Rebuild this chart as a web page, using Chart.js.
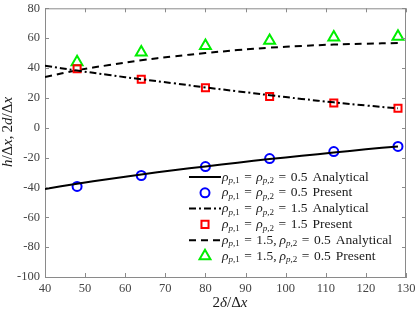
<!DOCTYPE html>
<html>
<head>
<meta charset="utf-8">
<script src="https://cdn.jsdelivr.net/npm/chart.js@4/dist/chart.umd.min.js"></script>
<style>
html, body { margin: 0; padding: 0; background: #fff; }
</style>
</head>
<body>
<canvas id="chart" width="415" height="312"></canvas>
<script>
// Data
const xPresent = [48, 64, 80, 96, 112, 128];
const xAnalytical = [40, 48, 56, 64, 72, 80, 88, 96, 104, 112, 120, 128];

const lowAnalytical = [-41, -37.5, -34.3, -31.3, -28.5, -25.9, -23.4, -21, -18.8, -16.6, -14.5, -12.5];
const lowPresent = [-39.3, -32, -26, -20.7, -16, -12.5];

const highAnalytical = [41.5, 38.3, 35.3, 32.5, 29.8, 27, 24.4, 21.8, 19.3, 17, 14.9, 13];
const highPresent = [39.5, 32.5, 26.8, 20.9, 16.6, 13];

const mixAnalytical = [34, 38.5, 42, 45.2, 47.8, 50, 52, 53.6, 54.8, 55.7, 56.3, 56.7];
const mixPresent = [44, 50.5, 54.8, 58.3, 60.5, 61];

const xTickValues = [40, 50, 60, 70, 80, 90, 100, 110, 120, 130];
const yTickValues = [-100, -80, -60, -40, -20, 0, 20, 40, 60, 80];

const legendMath = [
    'ρ_{p,1} = ρ_{p,2} = 0.5',
    'ρ_{p,1} = ρ_{p,2} = 0.5',
    'ρ_{p,1} = ρ_{p,2} = 1.5',
    'ρ_{p,1} = ρ_{p,2} = 1.5',
    'ρ_{p,1} = 1.5, ρ_{p,2} = 0.5',
    'ρ_{p,1} = 1.5, ρ_{p,2} = 0.5'
];
const legendWord = ['Analytical', 'Present', 'Analytical', 'Present', 'Analytical', 'Present'];

const SERIF = '"Liberation Serif", "DejaVu Serif", serif';
const AXIS_GREY = '#8a8a8a';

function pts(xs, ys) {
    return xs.map((x, i) => ({ x: x, y: ys[i] }));
}

// Split math text into styled pieces: letters italic, _{..} subscript,
// spaces become small gaps (wider around '=' like TeX)
function parseMath(str) {
    const segs = [];
    let i = 0;
    while (i < str.length) {
        const ch = str[i];
        if (ch === '_' && str[i + 1] === '{') {
            const end = str.indexOf('}', i);
            const inner = str.slice(i + 2, end);
            for (const c of inner) segs.push({ t: c, italic: /[a-zA-Zρδ]/.test(c), sub: true });
            i = end + 1;
        } else if (ch === ' ') {
            const next = str[i + 1], prev = str[i - 1];
            segs.push({ gap: (next === '=' || prev === '=') ? 4.5 : 3 });
            i++;
        } else {
            segs.push({ t: ch, italic: /[a-zA-Zρδ]/.test(ch), sub: false });
            i++;
        }
    }
    return segs;
}

function segFont(s, size) {
    const sz = s.sub ? Math.round(size * 0.7) : size;
    return (s.italic ? 'italic ' : '') + sz + 'px ' + SERIF;
}

function segWidth(ctx, s, size) {
    if (s.gap !== undefined) return s.gap;
    ctx.font = segFont(s, size);
    return ctx.measureText(s.t).width;
}

function drawSegs(ctx, segs, x, y, size, align) {
    let total = 0;
    segs.forEach(s => { total += segWidth(ctx, s, size); });
    let cx = align === 'center' ? x - total / 2 : x;
    ctx.textBaseline = 'middle';
    ctx.textAlign = 'left';
    segs.forEach(s => {
        const w = segWidth(ctx, s, size);
        if (s.gap === undefined) {
            ctx.font = segFont(s, size);
            ctx.fillText(s.t, cx, s.sub ? y + size * 0.28 : y);
        }
        cx += w;
    });
    return cx;
}

const datasetStyles = [
    { borderDash: [] },
    { pointStyle: 'circle', color: '#0000ff', radius: 4.5 },
    { borderDash: [7, 3, 2, 3] },
    { pointStyle: 'rect', color: '#ff0000', radius: 5 },
    { borderDash: [7, 5] },
    { pointStyle: 'triangle', color: '#00ee00', radius: 6.3 }
];

const frameAndLabels = {
    id: 'frameAndLabels',
    afterDraw(chart) {
        const ctx = chart.ctx;
        const a = chart.chartArea;
        const xs = chart.scales.x, ys = chart.scales.y;
        ctx.save();
        // box + inner ticks
        ctx.strokeStyle = AXIS_GREY;
        ctx.lineWidth = 1;
        ctx.beginPath();
        ctx.moveTo(a.left, a.top + 0.5); ctx.lineTo(a.right, a.top + 0.5);
        ctx.moveTo(a.right - 0.5, a.top); ctx.lineTo(a.right - 0.5, a.bottom);
        xTickValues.forEach(v => {
            const px = Math.round(xs.getPixelForValue(v)) + 0.5;
            ctx.moveTo(px, a.bottom); ctx.lineTo(px, a.bottom - 4);
            ctx.moveTo(px, a.top); ctx.lineTo(px, a.top + 4);
        });
        yTickValues.forEach(v => {
            const py = Math.round(ys.getPixelForValue(v)) + 0.5;
            ctx.moveTo(a.left, py); ctx.lineTo(a.left + 4, py);
            ctx.moveTo(a.right, py); ctx.lineTo(a.right - 4, py);
        });
        ctx.stroke();

        // legend
        const rowY = 177, rowH = 15.8, sampleL = 189, sampleR = 221, textX = 222;
        legendMath.forEach((m, i) => {
            const y = rowY + i * rowH;
            const st = datasetStyles[i];
            if (st.pointStyle) {
                ctx.lineWidth = 2;
                ctx.strokeStyle = st.color;
                ctx.fillStyle = 'rgba(0,0,0,0)';
                Chart.helpers.drawPoint(ctx, { pointStyle: st.pointStyle, radius: st.radius, borderWidth: 2 }, 205, y);
            } else {
                ctx.strokeStyle = '#000';
                ctx.lineWidth = 2;
                ctx.setLineDash(st.borderDash);
                ctx.beginPath();
                ctx.moveTo(sampleL, y); ctx.lineTo(sampleR, y);
                ctx.stroke();
                ctx.setLineDash([]);
            }
            ctx.fillStyle = '#1a1a1a';
            const segs = parseMath(m).concat([{ gap: 5 }, { t: legendWord[i], italic: false, sub: false }]);
            drawSegs(ctx, segs, textX, y, 13.5, 'left');
        });

        // axis titles
        ctx.fillStyle = '#1a1a1a';
        drawSegs(ctx, parseMath('2δ/Δx'), 230, 303, 15, 'center');
        ctx.translate(8, 132);
        ctx.rotate(-Math.PI / 2);
        drawSegs(ctx, parseMath('h/Δx, 2d/Δx'), 0, 0, 15, 'center');
        ctx.restore();
    }
};

const lineSet = (data, dash) => ({
    data: data,
    showLine: true,
    borderColor: '#000',
    borderWidth: 2,
    borderDash: dash,
    pointRadius: 0,
    tension: 0.4,
    fill: false
});

const markerSet = (data, st) => ({
    data: data,
    showLine: false,
    pointStyle: st.pointStyle,
    pointRadius: st.radius,
    pointBorderColor: st.color,
    pointBackgroundColor: 'rgba(0,0,0,0)',
    pointBorderWidth: 2
});

new Chart(document.getElementById('chart').getContext('2d'), {
    type: 'scatter',
    data: {
        datasets: [
            lineSet(pts(xAnalytical, lowAnalytical), datasetStyles[0].borderDash),
            markerSet(pts(xPresent, lowPresent), datasetStyles[1]),
            lineSet(pts(xAnalytical, highAnalytical), datasetStyles[2].borderDash),
            markerSet(pts(xPresent, highPresent), datasetStyles[3]),
            lineSet(pts(xAnalytical, mixAnalytical), datasetStyles[4].borderDash),
            markerSet(pts(xPresent, mixPresent), datasetStyles[5])
        ]
    },
    options: {
        responsive: false,
        animation: false,
        layout: { padding: { top: 7, right: 9, left: 0, bottom: 0 } },
        plugins: { legend: { display: false }, tooltip: { enabled: false } },
        scales: {
            x: {
                type: 'linear',
                min: 40, max: 130,
                afterBuildTicks: s => { s.ticks = xTickValues.map(v => ({ value: v })); },
                afterFit: s => { s.height = 35; s.paddingLeft = 0; s.paddingRight = 0; },
                grid: { display: false, drawTicks: false },
                border: { display: true, color: AXIS_GREY, width: 1 },
                ticks: { color: '#444', padding: 4, font: { family: SERIF, size: 12.5 } }
            },
            y: {
                type: 'linear',
                min: -100, max: 80,
                afterBuildTicks: s => { s.ticks = yTickValues.map(v => ({ value: v })); },
                afterFit: s => { s.width = 45; s.paddingTop = 0; s.paddingBottom = 0; },
                grid: { display: false, drawTicks: false },
                border: { display: true, color: AXIS_GREY, width: 1 },
                ticks: { color: '#444', padding: 5, font: { family: SERIF, size: 12.5 } }
            }
        }
    },
    plugins: [frameAndLabels]
});
</script>
</body>
</html>
